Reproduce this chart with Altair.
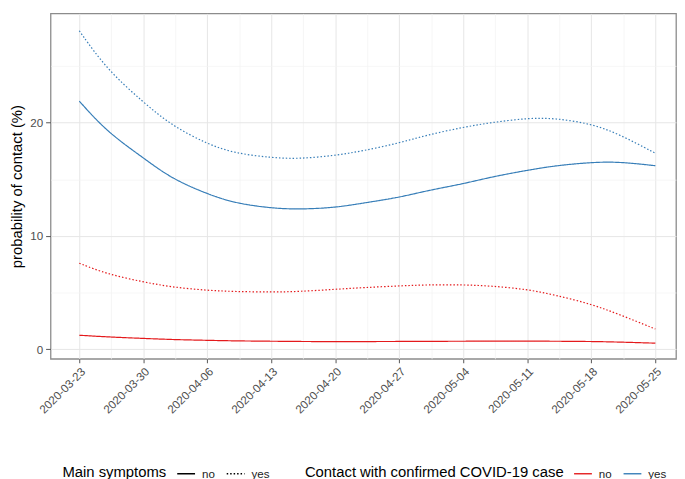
import altair as alt
import pandas as pd

dates = ["2020-03-23", "2020-03-26", "2020-03-30", "2020-04-02", "2020-04-06", "2020-04-09",
         "2020-04-13", "2020-04-16", "2020-04-20", "2020-04-23", "2020-04-27", "2020-04-30",
         "2020-05-04", "2020-05-07", "2020-05-11", "2020-05-14", "2020-05-18", "2020-05-21",
         "2020-05-25"]

# contact yes / symptoms yes
blue_dotted = [28.1, 24.7, 21.8, 19.8, 18.1, 17.3, 16.9, 16.8, 17.1, 17.5, 18.2, 18.9,
               19.6, 20.0, 20.4, 20.4, 19.9, 19.0, 17.3]
# contact yes / symptoms no
blue_solid = [21.9, 19.2, 16.9, 15.1, 13.7, 12.9, 12.45, 12.35, 12.5, 12.9, 13.4, 14.0,
              14.6, 15.2, 15.8, 16.2, 16.5, 16.55, 16.2]
# contact no / symptoms yes
red_dotted = [7.6, 6.65, 5.95, 5.5, 5.2, 5.1, 5.05, 5.1, 5.3, 5.45, 5.6, 5.7,
              5.7, 5.6, 5.3, 4.8, 4.0, 3.1, 1.8]
# contact no / symptoms no
red_solid = [1.25, 1.1, 0.97, 0.87, 0.8, 0.75, 0.72, 0.7, 0.68, 0.69, 0.7, 0.71,
             0.72, 0.73, 0.73, 0.72, 0.7, 0.65, 0.55]

week_ticks = ["2020-03-23", "2020-03-30", "2020-04-06", "2020-04-13", "2020-04-20",
              "2020-04-27", "2020-05-04", "2020-05-11", "2020-05-18", "2020-05-25"]

series = [
    ("yes", "yes", blue_dotted),
    ("yes", "no", blue_solid),
    ("no", "yes", red_dotted),
    ("no", "no", red_solid),
]
rows = []
for contact, symptoms, vals in series:
    for d, v in zip(dates, vals):
        rows.append({"date": d, "value": v, "contact": contact, "symptoms": symptoms})
df = pd.DataFrame(rows)

def ms(ts):
    return int(pd.Timestamp(ts, tz="UTC").value // 10**6)

major = [ms(t) for t in week_ticks]
minor = [ms(pd.Timestamp(t) + pd.Timedelta(hours=84)) for t in week_ticks[:-1]]
x_values = sorted(major + minor)

x_domain = [alt.DateTime(year=2020, month=3, date=19, hours=20, minutes=37, utc=True),
            alt.DateTime(year=2020, month=5, date=27, hours=6, minutes=13, utc=True)]

FONT = "Liberation Sans"

x_axis = alt.Axis(
    values=x_values,
    labelExpr="utchours(datum.value) == 0 ? utcFormat(datum.value, '%Y-%m-%d') : ''",
    labelAngle=-45,
    labelOverlap=False,
    labelFontSize=11.7,
    labelColor="#4d4d4d",
    labelPadding=3,
    tickSize=4,
    tickColor={"condition": {"test": "utchours(datum.value) != 0", "value": "transparent"},
               "value": "#555555"},
    gridColor={"condition": {"test": "utchours(datum.value) != 0", "value": "#f2f2f2"},
               "value": "#e6e6e6"},
    gridWidth={"condition": {"test": "utchours(datum.value) != 0", "value": 0.7},
               "value": 1},
    domain=False,
    title=None,
)

y_axis = alt.Axis(
    values=[0, 5, 10, 15, 20, 25],
    labelExpr="datum.value % 10 == 0 ? datum.label : ''",
    labelFontSize=11.7,
    labelColor="#4d4d4d",
    labelPadding=3,
    tickSize=5,
    tickColor={"condition": {"test": "datum.value % 10 != 0", "value": "transparent"},
               "value": "#555555"},
    gridColor={"condition": {"test": "datum.value % 10 != 0", "value": "#f2f2f2"},
               "value": "#e6e6e6"},
    gridWidth={"condition": {"test": "datum.value % 10 != 0", "value": 0.7},
               "value": 1},
    domain=False,
    title="probability of contact (%)",
    titleFontSize=15,
    titleFontWeight="normal",
    titleColor="black",
    titlePadding=5,
)

chart = alt.Chart(df).mark_line(strokeWidth=1.2, interpolate="basis").encode(
    x=alt.X("date:T", scale=alt.Scale(type="utc", domain=x_domain, nice=False), axis=x_axis),
    y=alt.Y("value:Q", scale=alt.Scale(domain=[-0.83, 29.63], nice=False, zero=False), axis=y_axis),
    color=alt.Color(
        "contact:N",
        scale=alt.Scale(domain=["no", "yes"], range=["#E41A1C", "#377EB8"]),
        legend=alt.Legend(
            title="Contact with confirmed COVID-19 case",
            orient="none", legendX=257, legendY=455, direction="horizontal",
            titleOrient="left", symbolType="stroke", symbolSize=324, symbolStrokeWidth=1.4,
        ),
    ),
    strokeDash=alt.StrokeDash(
        "symptoms:N",
        scale=alt.Scale(range=[[1, 0], [1.5, 2]]),
        legend=alt.Legend(
            title="Main symptoms",
            orient="none", legendX=12, legendY=455, direction="horizontal",
            titleOrient="left", symbolType="stroke", symbolSize=324, symbolStrokeWidth=1.4,
            symbolStrokeColor="black",
        ),
    ),
    detail="symptoms:N",
).properties(
    width=632,
    height=349,
    autosize=alt.AutoSizeParams(type="none"),
    padding={"left": 43, "top": 3, "right": 1, "bottom": 122},
).configure(
    font=FONT,
).configure_view(
    stroke="#8c8c8c", strokeWidth=1.3, fill="white",
).configure_legend(
    titleFontSize=15, titleFontWeight="normal", titleColor="black",
    labelFontSize=11.7, labelColor="#222222", titlePadding=9, columnPadding=8,
    labelOffset=6, titleBaseline="middle", titleLimit=400,
)

chart.save("out.html", embed_options={"renderer": "svg", "actions": False})
